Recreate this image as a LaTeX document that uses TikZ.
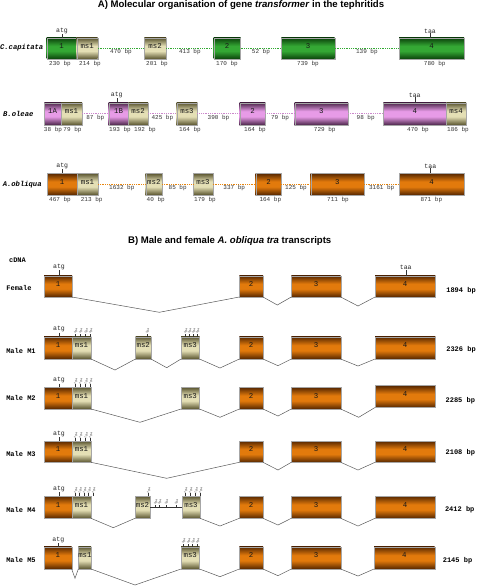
\documentclass[tikz,border=0pt]{standalone}
\usepackage{fontspec}
\setmainfont{Liberation Sans}
\setmonofont{Liberation Mono}
\usetikzlibrary{fit}
\definecolor{grdk}{HTML}{0B420B}\definecolor{grlt}{HTML}{34A834}
\definecolor{ordk}{HTML}{552600}\definecolor{orlt}{HTML}{E27A0C}
\definecolor{pudk}{HTML}{4A2548}\definecolor{pult}{HTML}{E79BE7}
\definecolor{khdk}{HTML}{58532E}\definecolor{khlt}{HTML}{E4DFB5}
\definecolor{dotg}{HTML}{33AA33}\definecolor{dotp}{HTML}{CC88CC}\definecolor{doto}{HTML}{E8860E}
\pgfdeclareverticalshading{grsh}{100bp}{color(0bp)=(grdk); color(25bp)=(grdk); color(44bp)=(grlt); color(56bp)=(grlt); color(75bp)=(grdk); color(100bp)=(grdk)}
\pgfdeclareverticalshading{orsh}{100bp}{color(0bp)=(ordk); color(25bp)=(ordk); color(44bp)=(orlt); color(56bp)=(orlt); color(75bp)=(ordk); color(100bp)=(ordk)}
\pgfdeclareverticalshading{push}{100bp}{color(0bp)=(pudk); color(25bp)=(pudk); color(44bp)=(pult); color(56bp)=(pult); color(75bp)=(pudk); color(100bp)=(pudk)}
\pgfdeclareverticalshading{khsh}{100bp}{color(0bp)=(khdk); color(25bp)=(khdk); color(44bp)=(khlt); color(56bp)=(khlt); color(75bp)=(khdk); color(100bp)=(khdk)}
\newcommand{\ebox}[7]{\node[#6, fit={(#2,#4) (#3,#5)}] (#1) {#7};}
\begin{document}
\begin{tikzpicture}[x=1pt,y=-1pt,
  exbase/.style={draw=gray!70, line width=0.3pt, inner sep=0pt, outer sep=0pt, shade,
     font=\ttfamily\fontsize{7.4}{7.4}\selectfont, text=black!90},
  gr/.style={exbase, shading=grsh},
  or/.style={exbase, shading=orsh},
  pu/.style={exbase, shading=push},
  kh/.style={exbase, shading=khsh},
  lbl/.style={font=\ttfamily\fontsize{6}{6}\selectfont, inner sep=0pt, text=black!80},
  gap/.style={lbl, anchor=north, yshift=-0.6pt},
  under/.style={lbl, anchor=north},
  rowlbl/.style={font=\ttfamily\bfseries\fontsize{7}{7}\selectfont, inner sep=0pt},
  sp/.style={font=\ttfamily\bfseries\itshape\fontsize{7.2}{7}\selectfont, inner sep=0pt},
  cod/.style={font=\ttfamily\fontsize{6.5}{6.5}\selectfont, inner sep=0pt, text=black!85},
  codtick/.style={draw=black!80, line width=0.4pt},
  tinytxt/.style={font=\ttfamily\fontsize{3}{3}\selectfont, inner sep=0.1pt, rotate=70, anchor=west, text=black!80},
  tick/.style={draw=black!80, line width=0.3pt},
  dotC/.style={draw=dotg, densely dotted, line width=0.8pt},
  dotB/.style={draw=dotp, densely dotted, line width=0.8pt},
  dotA/.style={draw=doto, densely dotted, line width=0.8pt},
  intr/.style={draw=black!65, line width=0.5pt},
  ttl/.style={font=\bfseries\fontsize{9.6}{11}\selectfont, inner sep=0pt}
]
\useasboundingbox (0,0) rectangle (478,586);
\newcommand\stops[2]{\foreach \sx in {#2} {\draw[tick] (\sx,#1) -- (\sx,#1-3) node[tinytxt]{tga};}}

% ---------------- Part A ----------------
\node[ttl] (titleA) at (241,5) {A) Molecular organisation of gene \textit{transformer} in the tephritids};

% C. capitata
\node[sp] (lC) at (21.7,48) {C.capitata};
\ebox{c1}{46.7}{76.7}{38}{59}{gr}{1}
\ebox{cm1}{76.7}{97.7}{38}{59}{kh}{ms1}
\ebox{cm2}{144.3}{166}{38}{59}{kh}{ms2}
\ebox{c2}{213.7}{240.5}{38}{59}{gr}{2}
\ebox{c3}{281.3}{334.7}{38}{59}{gr}{3}
\ebox{c4}{399}{464}{38}{59}{gr}{4}
\draw[dotC] (cm1.east) -- node[gap]{470 bp} (cm2.west);
\draw[dotC] (cm2.east) -- node[gap]{413 bp} (c2.west);
\draw[dotC] (c2.east) -- node[gap]{52 bp} (c3.west);
\draw[dotC] (c3.east) -- node[gap]{139 bp} (c4.west);
\node[under] (uc1) at (60,60.5) {230 bp};
\node[under] (ucm1) at (90,60.5) {214 bp};
\node[under] (ucm2) at (157,60.5) {201 bp};
\node[under] (uc2) at (227,60.5) {170 bp};
\node[under] (uc3) at (308,60.5) {739 bp};
\node[under] (uc4) at (434.7,60.5) {780 bp};
\node[cod] (atgC) at (62,31) {atg};
\draw[codtick] (atgC.south) -- (atgC.south |- c1.north);
\node[cod] (taaC) at (430,31) {taa};
\draw[codtick] (taaC.south) -- (taaC.south |- c4.north);

% B. oleae
\node[sp] (lB) at (18.3,114) {B.oleae};
\ebox{b1A}{44.3}{61}{102.7}{125}{pu}{1A}
\ebox{bm1}{61}{82}{102.7}{125}{kh}{ms1}
\ebox{b1B}{108.7}{128.3}{102.7}{125}{pu}{1B}
\ebox{bm2}{128.3}{148}{102.7}{125}{kh}{ms2}
\ebox{bm3}{176.7}{197.3}{102.7}{125}{kh}{ms3}
\ebox{b2}{239.7}{265.3}{102.7}{125}{pu}{2}
\ebox{b3}{294.7}{348}{102.7}{125}{pu}{3}
\ebox{b4}{383.3}{446.3}{102.7}{125}{pu}{4}
\ebox{bm4}{446.3}{466}{102.7}{125}{kh}{ms4}
\draw[dotB] (bm1.east) -- node[gap]{87 bp} (b1B.west);
\draw[dotB] (bm2.east) -- node[gap]{425 bp} (bm3.west);
\draw[dotB] (bm3.east) -- node[gap]{390 bp} (b2.west);
\draw[dotB] (b2.east) -- node[gap]{79 bp} (b3.west);
\draw[dotB] (b3.east) -- node[gap]{98 bp} (b4.west);
\node[under] (ub1A) at (53,127) {38 bp};
\node[under] (ubm1) at (72.5,127) {79 bp};
\node[under] (ub1B) at (120,127) {193 bp};
\node[under] (ubm2) at (145,127) {192 bp};
\node[under] (ubm3) at (190,127) {164 bp};
\node[under] (ub2) at (255,127) {164 bp};
\node[under] (ub3) at (324.7,127) {729 bp};
\node[under] (ub4) at (418,127) {470 bp};
\node[under] (ubm4) at (458,127) {186 bp};
\node[cod] (atgB) at (116.7,95) {atg};
\draw[codtick] (atgB.south) -- (atgB.south |- b1B.north);
\node[cod] (taaB) at (414.7,95) {taa};
\draw[codtick] (taaB.south) -- (taaB.south |- b4.north);

% A. obliqua
\node[sp] (lA) at (22.2,184.3) {A.obliqua};
\ebox{a1}{47}{77}{173.3}{195}{or}{1}
\ebox{am1}{77}{98}{173.3}{195}{kh}{ms1}
\ebox{am2}{145.7}{162}{173.3}{195}{kh}{ms2}
\ebox{am3}{193.3}{212.7}{173.3}{195}{kh}{ms3}
\ebox{a2}{255.7}{281.3}{173.3}{195}{or}{2}
\ebox{a3}{310.7}{364}{173.3}{195}{or}{3}
\ebox{a4}{399.3}{464}{173.3}{195}{or}{4}
\draw[dotA] (am1.east) -- node[gap]{1632 bp} (am2.west);
\draw[dotA] (am2.east) -- node[gap]{85 bp} (am3.west);
\draw[dotA] (am3.east) -- node[gap]{337 bp} (a2.west);
\draw[dotA] (a2.east) -- node[gap]{125 bp} (a3.west);
\draw[dotA] (a3.east) -- node[gap]{3161 bp} (a4.west);
\node[under] (ua1) at (60,197) {467 bp};
\node[under] (uam1) at (91.7,197) {213 bp};
\node[under] (uam2) at (155.7,197) {40 bp};
\node[under] (uam3) at (205,197) {179 bp};
\node[under] (ua2) at (270.3,197) {164 bp};
\node[under] (ua3) at (338,197) {711 bp};
\node[under] (ua4) at (431.3,197) {871 bp};
\node[cod] (atgA) at (62.3,166) {atg};
\draw[codtick] (atgA.south) -- (atgA.south |- a1.north);
\node[cod] (taaA) at (430.3,166) {taa};
\draw[codtick] (taaA.south) -- (taaA.south |- a4.north);

% ---------------- Part B ----------------
\node[ttl] (titleB) at (229.7,241) {B) Male and female \textit{A. obliqua tra} transcripts};
\node[rowlbl] (cdna) at (17.5,260) {cDNA};

% Female
\node[rowlbl] (lF) at (19,287.7) {Female};
\ebox{f1}{44}{72}{275.7}{297}{or}{1}
\ebox{f2}{239.3}{263}{275.7}{297}{or}{2}
\ebox{f3}{291.3}{340.7}{275.7}{297}{or}{3}
\ebox{f4}{375}{435.3}{275.7}{297}{or}{4}
\coordinate (fv1) at (159.3,312.3);
\coordinate (fv2) at (277.3,305);
\coordinate (fv3) at (358,306);
\draw[intr] (f1.south east) -- (fv1) -- (f2.south west);
\draw[intr] (f2.south east) -- (fv2) -- (f3.south west);
\draw[intr] (f3.south east) -- (fv3) -- (f4.south west);
\node[cod] (atgF) at (59,267.3) {atg};
\draw[codtick] (atgF.south) -- (atgF.south |- f1.north);
\node[cod] (taaF) at (405.7,267.3) {taa};
\draw[codtick] (taaF.south) -- (taaF.south |- f4.north);
\node[rowlbl] (bpF) at (461,290.7) {1894 bp};

% Male M1
\node[rowlbl] (lM1) at (21,350.7) {Male M1};
\ebox{p1}{44}{72}{336.7}{359}{or}{1}
\ebox{pm1}{72}{91}{336.7}{359}{kh}{ms1}
\ebox{pm2}{135.5}{151}{336.7}{359}{kh}{ms2}
\ebox{pm3}{181}{199.5}{336.7}{359}{kh}{ms3}
\ebox{p2}{239.3}{263}{336.7}{359}{or}{2}
\ebox{p3}{291.3}{340.7}{336.7}{359}{or}{3}
\ebox{p4}{375}{435.3}{336.7}{359}{or}{4}
\coordinate (pv1) at (115,370);
\coordinate (pv2) at (166.7,367.7);
\coordinate (pv3) at (220,368);
\coordinate (pv4) at (278,365.7);
\coordinate (pv5) at (358,366);
\draw[intr] (pm1.south east) -- (pv1) -- (pm2.south west);
\draw[intr] (pm2.south east) -- (pv2) -- (pm3.south west);
\draw[intr] (pm3.south east) -- (pv3) -- (p2.south west);
\draw[intr] (p2.south east) -- (pv4) -- (p3.south west);
\draw[intr] (p3.south east) -- (pv5) -- (p4.south west);
\node[cod] (atgM1) at (59,329.5) {atg};
\draw[codtick] (atgM1.south) -- (atgM1.south |- p1.north);
\stops{336.7}{75,80,85.5,90}
\stops{336.7}{146.7}
\stops{336.7}{185,189,193,197}
\node[rowlbl] (bpM1) at (461,350) {2326 bp};

% Male M2
\node[rowlbl] (lM2) at (21,398.3) {Male M2};
\ebox{q1}{44}{72}{387.3}{409}{or}{1}
\ebox{qm1}{72}{91}{387.3}{409}{kh}{ms1}
\ebox{qm3}{181}{199.5}{387.3}{409}{kh}{ms3}
\ebox{q2}{239.3}{263}{387.3}{409}{or}{2}
\ebox{q3}{291.3}{340.7}{387.3}{409}{or}{3}
\ebox{q4}{375}{435.3}{385.5}{407.5}{or}{4}
\coordinate (qv1) at (140,422.3);
\coordinate (qv2) at (220,417.3);
\coordinate (qv3) at (278,416);
\coordinate (qv4) at (358.7,417.3);
\draw[intr] (qm1.south east) -- (qv1) -- (qm3.south west);
\draw[intr] (qm3.south east) -- (qv2) -- (q2.south west);
\draw[intr] (q2.south east) -- (qv3) -- (q3.south west);
\draw[intr] (q3.south east) -- (qv4) -- (q4.south west);
\node[cod] (atgM2) at (59,380.5) {atg};
\draw[codtick] (atgM2.south) -- (atgM2.south |- q1.north);
\stops{387.3}{75,80,85.5,90}
\node[rowlbl] (bpM2) at (460.3,400.7) {2285 bp};

% Male M3
\node[rowlbl] (lM3) at (21,454) {Male M3};
\ebox{r1}{44}{72}{441}{462.3}{or}{1}
\ebox{rm1}{72}{91}{441}{462.3}{kh}{ms1}
\ebox{r2}{239.3}{263}{441}{462.3}{or}{2}
\ebox{r3}{291.3}{340.7}{441}{462.3}{or}{3}
\ebox{r4}{375}{435.3}{441}{462.3}{or}{4}
\coordinate (rv1) at (166.7,478.3);
\coordinate (rv2) at (278,470);
\coordinate (rv3) at (358,470);
\draw[intr] (rm1.south east) -- (rv1) -- (r2.south west);
\draw[intr] (r2.south east) -- (rv2) -- (r3.south west);
\draw[intr] (r3.south east) -- (rv3) -- (r4.south west);
\node[cod] (atgM3) at (59,434.3) {atg};
\draw[codtick] (atgM3.south) -- (atgM3.south |- r1.north);
\stops{441}{75,80,85.5,90}
\node[rowlbl] (bpM3) at (460.3,452.3) {2108 bp};

% Male M4
\node[rowlbl] (lM4) at (21,510) {Male M4};
\ebox{s1}{44}{72}{496}{518.3}{or}{1}
\ebox{sm1}{72}{91}{496}{518.3}{kh}{ms1}
\ebox{sm2}{135}{150}{496}{518.3}{kh}{ms2}
\ebox{sm3}{182}{200}{496}{518.3}{kh}{ms3}
\ebox{s2}{239.3}{263}{496}{518.3}{or}{2}
\ebox{s3}{291.3}{340.7}{496}{518.3}{or}{3}
\ebox{s4}{375}{435.3}{496}{518.3}{or}{4}
\draw[tick] (sm2.east) -- (sm3.west);
\stops{507.7}{155,159,165.7,175.7}
\coordinate (sv1) at (113.3,527.7);
\coordinate (sv2) at (220,526);
\coordinate (sv3) at (278,525);
\coordinate (sv4) at (358,526);
\draw[intr] (sm1.south east) -- (sv1) -- (sm2.south west);
\draw[intr] (sm3.south east) -- (sv2) -- (s2.south west);
\draw[intr] (s2.south east) -- (sv3) -- (s3.south west);
\draw[intr] (s3.south east) -- (sv4) -- (s4.south west);
\node[cod] (atgM4) at (59,489.3) {atg};
\draw[codtick] (atgM4.south) -- (atgM4.south |- s1.north);
\stops{496}{75,79.5,84,88.5,93}
\stops{496}{148}
\stops{496}{185,190,195.5,200}
\node[rowlbl] (bpM4) at (459.7,510) {2412 bp};

% Male M5
\node[rowlbl] (lM5) at (21,560) {Male M5};
\ebox{t1}{44}{71.7}{546.7}{569}{or}{1}
\ebox{tm1}{78.3}{91}{546.7}{569}{kh}{ms1}
\ebox{tm3}{181}{199.5}{546.7}{569}{kh}{ms3}
\ebox{t2}{239.3}{263}{546.7}{569}{or}{2}
\ebox{t3}{291.3}{340.7}{546.7}{569}{or}{3}
\ebox{t4}{374}{434.7}{546.7}{569}{or}{4}
\coordinate (tv0) at (75,578.3);
\coordinate (tv1) at (135,585);
\coordinate (tv2) at (220,576.7);
\coordinate (tv3) at (278,575.7);
\coordinate (tv4) at (358,576);
\draw[intr] (t1.south east) -- (tv0) -- (tm1.south west);
\draw[intr] (tm1.south east) -- (tv1) -- (tm3.south west);
\draw[intr] (tm3.south east) -- (tv2) -- (t2.south west);
\draw[intr] (t2.south east) -- (tv3) -- (t3.south west);
\draw[intr] (t3.south east) -- (tv4) -- (t4.south west);
\node[cod] (atgM5) at (58.3,540) {atg};
\draw[codtick] (atgM5.south) -- (atgM5.south |- t1.north);
\stops{546.7}{183,188,192.5,197}
\node[rowlbl] (bpM5) at (457.5,561) {2145 bp};
\end{tikzpicture}
\end{document}
